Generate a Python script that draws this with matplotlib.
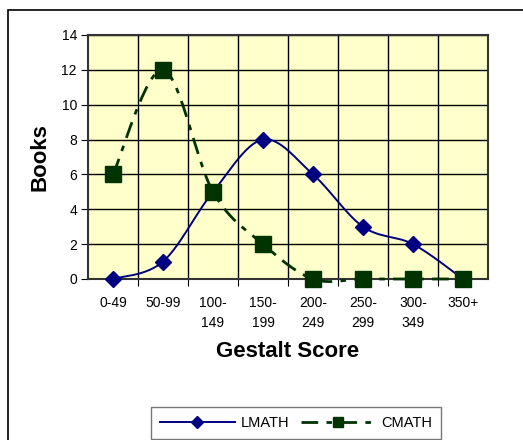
# Gestalt score distribution chart
import numpy as np
import matplotlib.pyplot as plt
from matplotlib.patches import Rectangle

plt.rcParams['font.family'] = ['Liberation Sans', 'DejaVu Sans']

# Data
categories = ['0-49', '50-99', '100-\n149', '150-\n199', '200-\n249', '250-\n299', '300-\n349', '350+']
lmath = [0, 1, 5, 8, 6, 3, 2, 0]
cmath = [6, 12, 5, 2, 0, 0, 0, 0]


# Excel-style smoothed line (cardinal spline through the points)
def smooth(xs, ys, n=30):
    p = np.column_stack([xs, ys]).astype(float)
    pts = np.vstack([p[0], p, p[-1]])
    out = []
    for i in range(1, len(pts) - 2):
        p0, p1, p2, p3 = pts[i - 1], pts[i], pts[i + 1], pts[i + 2]
        c1 = p1 + (p2 - p0) / 6
        c2 = p2 - (p3 - p1) / 6
        t = np.linspace(0, 1, n)[:, None]
        seg = (1 - t) ** 3 * p1 + 3 * (1 - t) ** 2 * t * c1 + 3 * (1 - t) * t ** 2 * c2 + t ** 3 * p2
        out.append(seg if i == 1 else seg[1:])
    out = np.vstack(out)
    return out[:, 0], out[:, 1]


x = np.arange(len(categories))

fig = plt.figure(figsize=(5.23, 4.4), dpi=100)
ax = fig.add_axes([88 / 523, 161 / 440, 400 / 523, 244 / 440])
ax.set_facecolor('#FFFFCC')

navy = '#000080'
green = '#003300'

sx, sy = smooth(x, lmath)
ax.plot(sx, sy, color=navy, lw=1.4, zorder=3, clip_on=False)
ax.plot(x, lmath, ls='none', marker='D', ms=8, color=navy, zorder=4, clip_on=False)

sx, sy = smooth(x, cmath)
ax.plot(sx, sy, color=green, lw=2, dashes=(6, 3, 2, 3), zorder=3, clip_on=False)
ax.plot(x, cmath, ls='none', marker='s', ms=11, color=green, zorder=4, clip_on=False)

ax.set_xlim(-0.5, 7.5)
ax.set_ylim(0, 14)
ax.set_yticks(range(0, 15, 2))
ax.set_xticks(np.arange(0.5, 7.5, 1), minor=False)
ax.set_xticks(x, minor=True)
ax.set_xticklabels([])
ax.set_xticklabels(categories, minor=True, fontsize=10, linespacing=1.55)
ax.tick_params(axis='x', which='minor', length=0, pad=12)
ax.tick_params(axis='x', which='major', length=5, direction='out', color='black')
ax.tick_params(axis='y', length=5, direction='out', labelsize=10, pad=3)
ax.grid(True, which='major', color='black', lw=1)
ax.set_axisbelow(True)
for s in ax.spines.values():
    s.set_color('#333333')
    s.set_linewidth(1.5)

ax.set_xlabel('Gestalt Score', fontsize=16, fontweight='bold', labelpad=8)
ax.set_ylabel('Books', fontsize=16, fontweight='bold', labelpad=8)

# legend
h1 = plt.Line2D([], [], color=navy, lw=1.4, marker='D', ms=6)
h2 = plt.Line2D([], [], color=green, lw=2, dashes=(6, 3, 2, 3), marker='s', ms=7)
leg = fig.legend([h1, h2], ['LMATH', 'CMATH'], ncol=2, loc='upper center',
                 bbox_to_anchor=(296 / 523, 1 - 407 / 440), borderaxespad=0,
                 frameon=True, fancybox=False,
                 edgecolor='#555555', fontsize=10.5, handlelength=5.1, columnspacing=0.8,
                 handletextpad=0.4, borderpad=0.6)
leg.get_frame().set_linewidth(1)

# outer chart border
fig.patches.append(Rectangle((8 / 523, -0.1), 1.2, 1 - 10 / 440 + 0.1, transform=fig.transFigure,
                             fill=False, edgecolor='black', lw=1.2))

fig.savefig('out.png', dpi=100)
